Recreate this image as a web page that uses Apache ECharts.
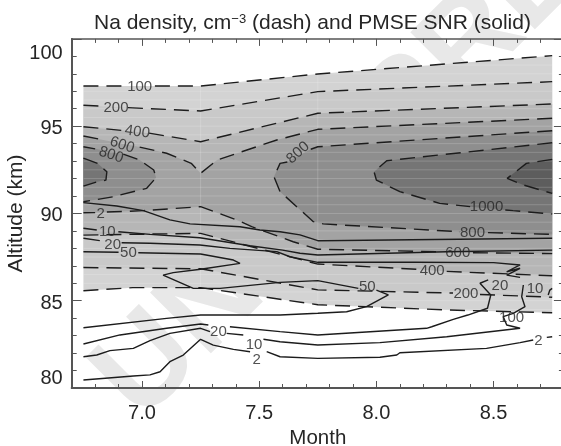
<!DOCTYPE html>
<html>
<head>
<meta charset="utf-8">
<title>Na density and PMSE SNR</title>
<script src="https://cdn.jsdelivr.net/npm/echarts@6/dist/echarts.min.js"></script>
<style>
  html, body { margin: 0; padding: 0; background: #fff; }
  #main { width: 561px; height: 446px; }
</style>
</head>
<body>
<div id="main"></div>
<script>
// all contours are [month, altitude], null = gap where a label sits
const na100Upper = [[6.75,97.3],[6.94,97.3],null,[7.055,97.3],[7.25,97.3],[7.75,97.99],[8.75,99.04]];
const na100Lower = [[6.75,85.57],[6.96,85.75],[7.25,85.75],[7.75,84.77],[8.3,84.47],[8.75,84.31]];
const na200Upper = [[6.75,96.2],[6.833,96.14],null,[6.94,96.06],[7.25,95.87],[7.75,96.98],[8.75,97.55]];
const na200Lower = [[6.75,86.9],[7.25,86.83],[7.75,85.62],[8.327,85.44],null,[8.442,85.36],[8.75,85.2]];
const na400Upper = [[6.75,94.97],[6.92,94.75],null,[7.03,94.6],[7.25,94.11],[7.75,95.74],[8.75,96.27]];
const na400Lower = [[6.75,88.76],[7.25,88.86],[7.75,87.1],[8.173,86.8],null,[8.3,86.68],[8.75,86.43]];
const na600Upper = [[6.75,94.44],[6.84,94.2],null,[6.99,93.8],[7.105,93.45],[7.21,92.87],[7.25,92.3],[7.32,93.06],[7.575,94.21],[7.75,94.82],[8.75,95.45]];
const na600Lower = [[6.75,90.04],[6.8,90.05],null,[6.85,90.08],[7.006,90.16],[7.25,90.39],[7.404,89.63],[7.468,89.24],[7.645,88.38],[7.75,87.95],[8.284,87.8],null,[8.412,87.75],[8.75,87.7]];
const na800Left = [[6.75,93.82],[6.8,93.7],null,[6.92,93.4],[6.99,93.06],[7.05,92.49],[7.06,92.05],[7.02,91.44],[6.878,90.96],[6.75,90.67]];
const na800Right = [[8.75,94.74],[7.75,93.82],[7.72,93.68],null,[7.62,92.95],[7.589,92.87],[7.563,92.1],[7.589,91.25],[7.731,89.53],[7.773,89.4],[8.357,88.95],null,[8.476,88.9],[8.75,88.8]];
const na1000Left = [[6.75,93.17],[6.81,92.87],[6.85,92.39],[6.846,91.91],[6.81,91.82],[6.75,91.57]];
const na1000Right = [[8.75,94.05],[8.044,93.02],[7.99,92.39],[8.0,91.91],[8.1,91.25],[8.27,90.58],[8.4,90.39],null,[8.55,90.2],[8.583,90.16],[8.75,89.97]];
const na1200Right = [[8.75,93.1],[8.64,92.87],[8.558,92.01],[8.627,91.63],[8.75,91.15]];

const snr2Upper = [[6.75,90.62],[6.892,90.43],[7.006,90.16],[7.119,89.63],[7.205,89.4],[7.418,89.24],[7.503,89.05],[7.589,88.95],[7.674,88.77],[7.75,88.44],[8.75,88.58]];
const snr10Upper = [[6.75,89.15],[6.807,89.05],null,[6.899,88.95],[7.034,88.8],[7.247,88.61],[7.46,88.15],[7.6,87.9],[7.674,87.72],[7.75,87.62],[8.3,87.81],[8.75,87.9]];
const snr20 = [[6.75,88.58],[6.82,88.44],null,[6.913,88.32],[7.034,88.29],[7.247,88.19],[7.375,88.0],[7.575,87.81],[7.631,87.52],[7.75,87.2],[8.157,87.2],[8.5,87.18],[8.613,87.05],[8.556,86.66],[8.613,86.86],[8.556,86.47],[8.613,86.34],null,[8.477,86.19],[8.442,86.0],[8.488,85.33],[8.474,84.57],[8.39,84.18],[8.328,83.93],[8.236,83.51],[8.214,83.42],[7.75,83.04],[7.589,83.23],[7.375,83.51],null,[7.283,83.61],[7.25,83.67],[7.105,83.42],[6.906,83.04],[6.75,82.52]];
const snr50 = [[6.75,87.81],[6.9,87.78],null,[6.984,87.75],[7.25,87.68],[7.39,87.33],[7.418,87.14],[7.25,86.8],[7.133,86.61],[7.09,86.47],[7.219,85.71],[7.333,85.71],[7.589,86.05],[7.75,86.15],[7.923,85.71],null,[8.0,85.61],[8.051,85.33],[7.958,84.66],[7.873,84.37],[7.75,84.28],[7.589,84.18],[7.25,84.18],[7.105,83.99],[6.75,83.45]];
const snr10Lower = [[6.75,81.79],[6.807,81.89],[6.863,82.14],[6.963,82.27],[7.034,82.71],[7.119,83.13],[7.25,83.42],[7.29,83.23],null,[7.361,83.13],[7.432,83.04],null,[7.518,82.79],[7.589,82.65],[7.75,82.46],[8.015,82.6],[8.3,82.94],[8.613,83.42],[8.556,83.61],[8.541,84.09],[8.584,84.28],[8.634,84.66],[8.62,85.23],[8.627,85.9],null,[8.733,85.33],[8.74,85.61],[8.75,85.71]];
const snr2Lower = [[6.75,80.46],[6.963,80.69],[7.034,80.75],[7.077,80.93],[7.119,81.51],[7.176,81.89],[7.25,82.79],[7.304,82.46],[7.39,82.21],[7.461,82.08],null,[7.532,82.08],[7.589,81.79],[7.75,81.7],[8.015,81.76],[8.087,81.89],[8.1,82.02],[8.47,82.27],[8.613,82.6],[8.669,82.75],null,[8.727,82.9],[8.75,82.94]];

const labelTexts = ['100','200','400','600','800','800','1000','800','600','400','200','100','2','10','20','50','50','20','10','2','20','10','2'];
const labelMonths = [6.99,6.889,6.98,6.915,6.868,7.666,8.47,8.41,8.347,8.238,8.382,8.577,6.824,6.852,6.875,6.942,7.961,7.326,7.478,7.489,8.527,8.677,8.691];
const labelAlts = [97.25,96.06,94.67,93.92,93.35,93.48,90.39,88.86,87.75,86.72,85.38,83.99,90.0,88.95,88.19,87.72,85.8,83.23,82.46,81.6,85.86,85.67,82.71];
const labelAngles = [0,0,-8,-18,-18,42,0,0,0,0,0,0,0,0,0,0,0,0,0,0,0,0,0];

const xMajor = [7.0, 7.5, 8.0, 8.5];
const meshAlts = [84.5,85,85.5,86,86.5,87,87.5,88,88.5,89,89.5,90,90.5,91,91.5,92,92.5,93,93.5,94,94.5,95,95.5,96,96.5,97,97.5,98,98.5,99];
const meshMonths = [7.25, 7.75];

const solid = p => p.filter(Boolean);
// filled bands, painted from the outside in
const bands = [
  { points: solid(na100Upper).concat(solid(na100Lower).reverse()), color: '#d3d3d3' },
  { points: solid(na200Upper).concat(solid(na200Lower).reverse()), color: '#c9c9c9' },
  { points: solid(na400Upper).concat(solid(na400Lower).reverse()), color: '#b6b6b6' },
  { points: solid(na600Upper).concat(solid(na600Lower).reverse()), color: '#a3a3a3' },
  { points: solid(na800Left), color: '#8e8e8e' },
  { points: solid(na800Right), color: '#8e8e8e' },
  { points: solid(na1000Left), color: '#757575' },
  { points: solid(na1000Right), color: '#757575' },
  { points: solid(na1200Right), color: '#5d5d5d' }
];
const dashed = [na100Upper, na100Lower, na200Upper, na200Lower, na400Upper, na400Lower, na600Upper, na600Lower, na800Left, na800Right, na1000Left, na1000Right, na1200Right];
const solids = [snr2Upper, snr10Upper, snr20, snr50, snr10Lower, snr2Lower];

const lineData = p => p.map(v => v || ['-', '-']);
const fontName = '"Liberation Sans", Arial, sans-serif';
const axisColor = '#555';
const textColor = '#262626';

function renderBand(params, api) {
  const band = bands[params.dataIndex];
  return {
    type: 'polygon',
    shape: { points: band.points.map(p => api.coord(p)) },
    style: { fill: band.color, stroke: null }
  };
}

// pale mesh lines of the original plot, only inside the outer band
function renderMesh(params, api) {
  const outline = bands[0].points.map(p => api.coord(p));
  const meshStyle = { stroke: 'rgba(255,255,255,0.18)', lineWidth: 1 };
  const children = meshAlts.map(a => {
    const from = api.coord([6.75, a]);
    const to = api.coord([8.75, a]);
    return { type: 'line', shape: { x1: from[0], y1: from[1], x2: to[0], y2: to[1] }, style: meshStyle };
  });
  meshMonths.forEach(m => {
    const from = api.coord([m, 84]);
    const to = api.coord([m, 100]);
    children.push({ type: 'line', shape: { x1: from[0], y1: from[1], x2: to[0], y2: to[1] }, style: meshStyle });
  });
  return { type: 'group', clipPath: { type: 'polygon', shape: { points: outline } }, children: children };
}

const series = [
  {
    type: 'custom', z: 2, silent: true, clip: false,
    renderItem: renderBand,
    data: bands.map((b, i) => [i])
  },
  {
    type: 'custom', z: 3, silent: true, clip: false,
    renderItem: renderMesh,
    data: [[0]]
  }
];
dashed.forEach(c => series.push({
  type: 'line', z: 4, silent: true, showSymbol: false, animation: false,
  data: lineData(c),
  lineStyle: { color: '#1c1c1c', width: 1.4, type: [15, 8] }
}));
solids.forEach(c => series.push({
  type: 'line', z: 5, silent: true, showSymbol: false, animation: false,
  data: lineData(c),
  lineStyle: { color: '#1c1c1c', width: 1.4 }
}));
series.push({
  type: 'scatter', z: 6, silent: true, symbolSize: 0,
  data: labelTexts.map((t, i) => ({
    name: t,
    value: [labelMonths[i], labelAlts[i]],
    label: { rotate: labelAngles[i] }
  })),
  label: {
    show: true, position: 'inside', formatter: '{b}',
    fontFamily: fontName, fontSize: 15, color: textColor
  }
});

const gridLeft = 71.7, gridTop = 38.9;
const tickless = { show: false };
const yTickText = { fontFamily: fontName, fontSize: 20, color: textColor };
const chart = echarts.init(document.getElementById('main'));
chart.setOption({
  animation: false,
  backgroundColor: '#fff',
  title: {
    text: '{a|Na density, cm}{s|\u22123}{a| (dash) and PMSE SNR (solid)}',
    left: 89, top: 8,
    textStyle: {
      fontWeight: 'normal',
      rich: {
        a: { fontFamily: fontName, fontSize: 21, fontWeight: 'normal', color: textColor },
        s: { fontFamily: fontName, fontSize: 13, fontWeight: 'normal', color: textColor, verticalAlign: 'top' }
      }
    }
  },
  graphic: [{
    type: 'text', z: 0, silent: true,
    x: 161, y: 443, rotation: Math.PI / 4,
    style: {
      text: 'UNCORRECTED', fill: '#e8e8e8',
      font: 'bold 125px ' + fontName, textAlign: 'left', textVerticalAlign: 'bottom'
    }
  }],
  grid: { left: gridLeft, top: gridTop, width: 492.2, height: 349.1, outerBoundsMode: 'none' },
  xAxis: [
    {
      type: 'value', min: 6.7, max: 8.8, position: 'bottom',
      name: 'Month', nameLocation: 'middle', nameGap: 40, nameMoveOverlap: false,
      nameTextStyle: { fontFamily: fontName, fontSize: 20.5, color: textColor },
      splitLine: tickless,
      axisLine: { show: true, lineStyle: { color: axisColor, width: 2 } },
      axisTick: { show: true, inside: true, length: 7, customValues: xMajor, lineStyle: { color: axisColor, width: 1 } },
      axisLabel: { show: true, margin: 15, customValues: xMajor, formatter: v => v.toFixed(1), fontFamily: fontName, fontSize: 20, color: textColor }
    },
    {
      type: 'value', min: 6.7, max: 8.8, interval: 0.1, position: 'bottom',
      splitLine: tickless, axisLine: tickless, axisLabel: tickless,
      axisTick: { show: true, inside: true, length: 4, lineStyle: { color: axisColor, width: 1 } }
    },
    {
      type: 'value', min: 6.7, max: 8.8, position: 'top',
      splitLine: tickless, axisLabel: tickless,
      axisLine: { show: true, lineStyle: { color: axisColor, width: 1.5 } },
      axisTick: { show: true, inside: true, length: 7, customValues: xMajor, lineStyle: { color: axisColor, width: 1 } }
    },
    {
      type: 'value', min: 6.7, max: 8.8, interval: 0.1, position: 'top',
      splitLine: tickless, axisLine: tickless, axisLabel: tickless,
      axisTick: { show: true, inside: true, length: 4, lineStyle: { color: axisColor, width: 1 } }
    }
  ],
  yAxis: [
    {
      type: 'value', min: 80, max: 100, interval: 5, position: 'left',
      name: 'Altitude (km)', nameLocation: 'middle', nameGap: 45, nameMoveOverlap: false,
      nameTextStyle: { fontFamily: fontName, fontSize: 21, color: textColor },
      splitLine: tickless,
      axisLine: { show: true, lineStyle: { color: axisColor, width: 2 } },
      axisTick: { show: true, inside: true, length: 10, lineStyle: { color: axisColor, width: 1 } },
      minorTick: { show: true, splitNumber: 5, length: 5, lineStyle: { color: axisColor, width: 1 } },
      axisLabel: {
        show: true, margin: 9,
        verticalAlignMaxLabel: 'top', verticalAlignMinLabel: 'bottom',
        formatter: v => (v === 100 ? '{top|100}' : v === 80 ? '{low|80}' : '{mid|' + v + '}'),
        rich: {
          top: { ...yTickText, padding: [5, 0, 0, 0] },
          mid: { ...yTickText, padding: [5, 0, 0, 0] },
          low: { ...yTickText }
        }
      }
    },
    {
      type: 'value', min: 80, max: 100, interval: 5, position: 'right',
      splitLine: tickless, axisLabel: tickless,
      axisLine: { show: true, lineStyle: { color: axisColor, width: 1 } },
      axisTick: { show: true, inside: true, length: 10, lineStyle: { color: axisColor, width: 1 } },
      minorTick: { show: true, splitNumber: 5, length: 5, lineStyle: { color: axisColor, width: 1 } }
    }
  ],
  series: series
});
</script>
</body>
</html>
